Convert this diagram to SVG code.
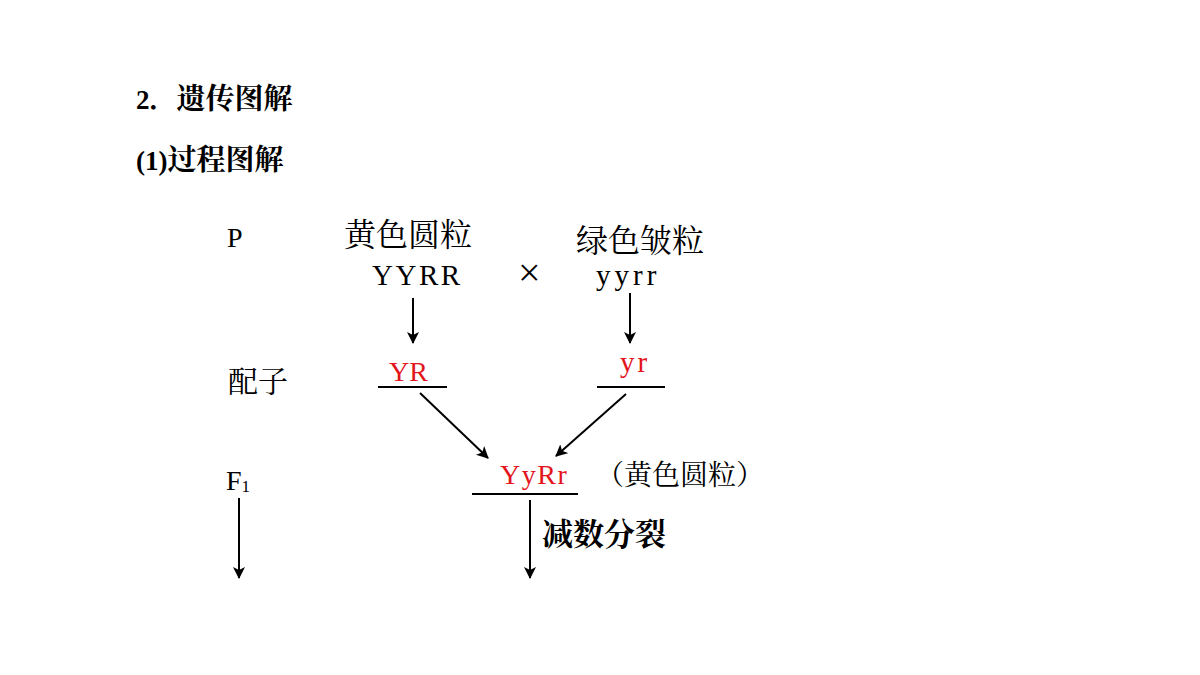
<svg xmlns="http://www.w3.org/2000/svg" width="1200" height="675" viewBox="0 0 1200 675">
<defs>
<style>
.t{font-family:"Liberation Serif","Noto Serif CJK SC","Noto Sans CJK SC",serif;fill:#000}
.b{font-weight:bold}
.red{fill:#e3141b}
.ln{stroke:#000;stroke-width:2;fill:none}
</style>
<marker id="ah2" viewBox="0 0 12 12" refX="11" refY="6" markerWidth="12" markerHeight="14" markerUnits="userSpaceOnUse" orient="auto">
<path d="M0,0 L12,6 L0,12 L3,6 Z" fill="#000"/>
</marker>
</defs>
<g id="title">
<text class="t b" x="136" y="109" font-size="27">2．<tspan font-size="29">遗传图解</tspan></text>
<text class="t b" x="136" y="170" font-size="27">(1)<tspan font-size="29">过程图解</tspan></text>
</g>
<g id="labels">
<text class="t" x="227" y="247" font-size="28">P</text>
<text class="t" x="228" y="392" font-size="30">配子</text>
<text class="t" x="226" y="490" font-size="28">F<tspan font-size="17" dy="2">1</tspan></text>
</g>
<g id="parent1">
<text class="t" x="344" y="246" font-size="32">黄色圆粒</text>
<text class="t" x="372" y="285" font-size="29" letter-spacing="2.5">YYRR</text>
</g>
<g id="cross"><text class="t" x="518" y="286" font-size="40">×</text></g>
<g id="parent2">
<text class="t" x="576" y="252" font-size="32">绿色皱粒</text>
<text class="t" x="596" y="285" font-size="29" letter-spacing="4">yyrr</text>
</g>
<g id="gamete1">
<text class="t red" x="389" y="381" font-size="28">YR</text>
<line class="ln" x1="378" y1="387" x2="447" y2="387"/>
</g>
<g id="gamete2">
<text class="t red" x="620" y="372" font-size="29" letter-spacing="3">yr</text>
<line class="ln" x1="597" y1="387" x2="665" y2="387"/>
</g>
<g id="f1">
<text class="t red" x="500" y="484" font-size="28" letter-spacing="1.5">YyRr</text>
<line class="ln" x1="472" y1="494" x2="578" y2="494"/>
<text class="t" x="596" y="485" font-size="28">（黄色圆粒）</text>
</g>
<g id="meiosis-label"><text class="t b" x="542" y="545" font-size="31">减数分裂</text></g>
<g id="connectors">
<line class="ln" x1="413" y1="298" x2="413" y2="343" marker-end="url(#ah2)"/>
<line class="ln" x1="630" y1="293" x2="630" y2="343" marker-end="url(#ah2)"/>
<line class="ln" x1="420" y1="393" x2="488" y2="458" marker-end="url(#ah2)"/>
<line class="ln" x1="626" y1="394" x2="556" y2="456" marker-end="url(#ah2)"/>
<line class="ln" x1="239" y1="498" x2="239" y2="578" marker-end="url(#ah2)"/>
<line class="ln" x1="530" y1="500" x2="530" y2="578" marker-end="url(#ah2)"/>
</g>
</svg>
